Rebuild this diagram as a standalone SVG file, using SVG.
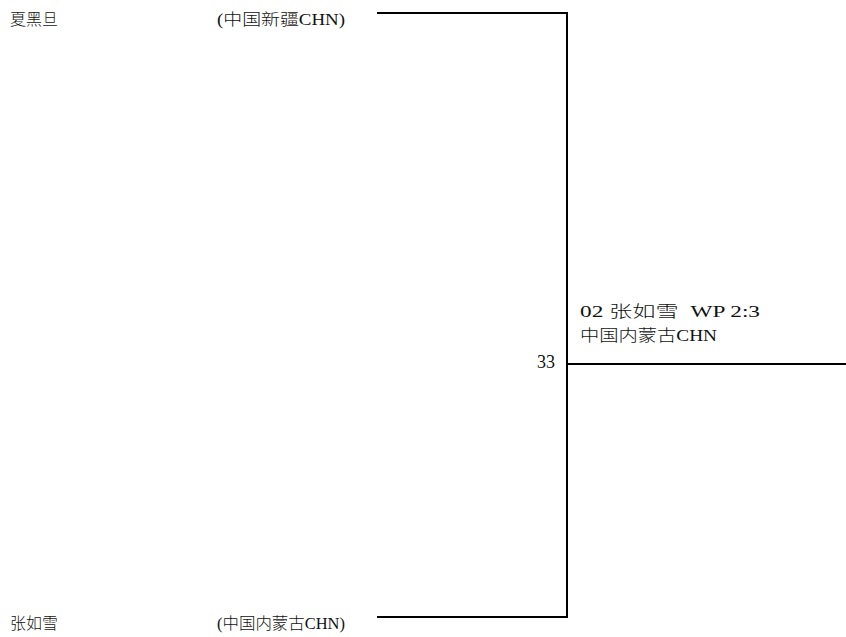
<svg xmlns="http://www.w3.org/2000/svg" width="846" height="637" viewBox="0 0 846 637">
<style>
text{font-family:"Liberation Serif","Noto Sans CJK SC",serif;font-size:16px;font-weight:300;fill:#111}
.ln{stroke:#000;stroke-width:2;fill:none}
</style>
<rect width="846" height="637" fill="#fff"/>
<g id="player1">
<text x="10" y="25" textLength="48" lengthAdjust="spacingAndGlyphs">夏黑旦</text>
<text x="217" y="25" textLength="128" lengthAdjust="spacingAndGlyphs">(中国新疆CHN)</text>
</g>
<g id="player2">
<text x="10" y="629" textLength="48" lengthAdjust="spacingAndGlyphs">张如雪</text>
<text x="217" y="629" textLength="128" lengthAdjust="spacingAndGlyphs">(中国内蒙古CHN)</text>
</g>
<g id="winner">
<text x="580" y="317" textLength="180" lengthAdjust="spacingAndGlyphs" xml:space="preserve">02 张如雪  WP 2:3</text>
<text x="580" y="341" textLength="137" lengthAdjust="spacingAndGlyphs">中国内蒙古CHN</text>
<text x="555" y="368" text-anchor="end" style="font-size:18px">33</text>
</g>
<g id="connectors">
<polyline class="ln" points="377,13 567,13 567,617 377,617"/>
<line class="ln" x1="567" y1="364" x2="846" y2="364"/>
</g>
</svg>
